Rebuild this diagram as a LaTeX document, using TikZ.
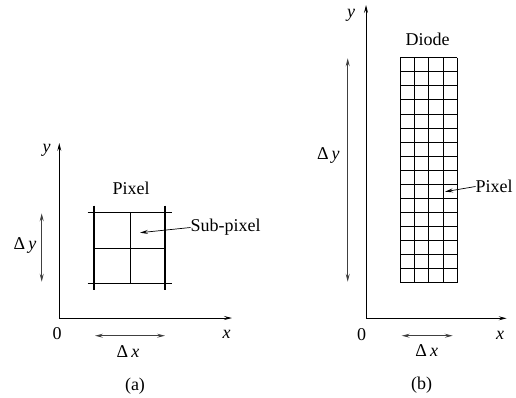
\documentclass[tikz,border=0pt]{standalone}
\usepackage{fontspec}
\setmainfont{Liberation Serif}
\usetikzlibrary{arrows.meta}
\begin{document}
\begin{tikzpicture}[x=1pt,y=-1pt,
  lbl/.style={inner sep=0pt,font=\fontsize{18}{21}\selectfont},
  axis/.style={line width=0.8pt,-{Stealth[length=8pt,width=4pt,inset=3pt]}},
  dim/.style={line width=0.8pt,draw=black!75,{Stealth[length=8pt,width=4pt,inset=3pt]}-{Stealth[length=8pt,width=4pt,inset=3pt]}},
  ptr/.style={line width=0.7pt,-{Stealth[length=8pt,width=4pt,inset=3pt]}},
  thickgrid/.style={line width=1.1pt},
  thingrid/.style={line width=0.8pt}]
\useasboundingbox (0,0) rectangle (516,397);
% ---------- panel (a) ----------
\coordinate (oa) at (59.3,318);
\coordinate (ya) at (59.3,143);
\coordinate (xa) at (232,318);
\draw[axis] (oa) -- (ya);
\draw[axis] (oa) -- (xa);
\node[lbl] (ylabA) at (46.5,150) {\textit{y}};
\node[lbl] (xlabA) at (226.5,334) {\textit{x}};
\node[lbl] (zeroA) at (57,334) {0};
\coordinate (dxa1) at (95,335.7);
\coordinate (dxa2) at (165,335.7);
\draw[dim] (dxa1) -- (dxa2);
\node[lbl] (dxA) at (128,352) {Δ\,\textit{x}};
\coordinate (dya1) at (41.7,213.3);
\coordinate (dya2) at (41.7,281.7);
\draw[dim] (dya1) -- (dya2);
\node[lbl] (dyA) at (25,245) {Δ\,\textit{y}};
% pixel grid
\draw[thickgrid] (87.7,212.3) -- (171.7,212.3);
\draw[thickgrid] (87.7,283.3) -- (171.7,283.3);
\draw[thickgrid] (94,205.7) -- (94,290);
\draw[thickgrid] (165,205.7) -- (165,290);
\draw[thingrid] (94,248.3) -- (165,248.3);
\draw[thingrid] (130,212.3) -- (130,283.3);
\node[lbl] (pixA) at (131,188.5) {Pixel};
\node[lbl,anchor=west] (subA) at (190.5,227.5) {Sub-pixel};
\coordinate (subT) at (140,232.7);
\draw[ptr] (subA.west) -- (subT);
\node[lbl] (capA) at (135,386.5) {(a)};
% ---------- panel (b) ----------
\coordinate (ob) at (366,318.3);
\coordinate (yb) at (366,5);
\coordinate (xb) at (506.7,318.3);
\draw[axis] (ob) -- (yb);
\draw[axis] (ob) -- (xb);
\node[lbl] (ylabB) at (351,15) {\textit{y}};
\node[lbl] (xlabB) at (500,335) {\textit{x}};
\node[lbl] (zeroB) at (361.7,335) {0};
\coordinate (dxb1) at (401.7,335.7);
\coordinate (dxb2) at (452.7,335.7);
\draw[dim] (dxb1) -- (dxb2);
\node[lbl] (dxB) at (426.7,351) {Δ\,\textit{x}};
\coordinate (dyb1) at (347.7,58.3);
\coordinate (dyb2) at (347.7,281.7);
\draw[dim] (dyb1) -- (dyb2);
\node[lbl] (dyB) at (328.3,155) {Δ\,\textit{y}};
% diode grid 4 x 16
\foreach \i in {0,...,4}{
  \draw[thingrid] ({400+\i*14.33},57.7) -- ({400+\i*14.33},282.7);
}
\foreach \j in {0,...,16}{
  \draw[thingrid] (400,{57.7+\j*14.0625}) -- (457.3,{57.7+\j*14.0625});
}
\node[lbl] (diodeB) at (427.7,39.5) {Diode};
\node[lbl,anchor=west] (pixB) at (475.5,186.5) {Pixel};
\coordinate (pixT) at (445,191.7);
\draw[ptr] (pixB.west) -- (pixT);
\node[lbl] (capB) at (421.7,385) {(b)};
\end{tikzpicture}
\end{document}
